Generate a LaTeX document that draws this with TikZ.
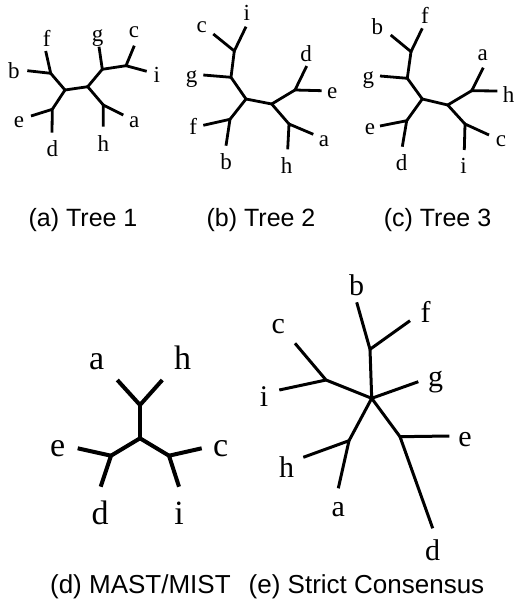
\documentclass[tikz,border=0pt]{standalone}
\usepackage{fontspec}
\setmainfont{Liberation Serif}
\setsansfont{Liberation Sans}
\usepackage{tikz}

\begin{document}
\begin{tikzpicture}[x=1pt, y=-1pt,
    branch/.style={line width=2.8pt},
    bigbranch/.style={line width=4pt},
    leaf/.style={inner sep=0pt, font=\fontsize{23}{25}\selectfont},
    bigleaf/.style={inner sep=0pt, font=\fontsize{34}{36}\selectfont},
    midleaf/.style={inner sep=0pt, font=\fontsize{30}{32}\selectfont},
    caption/.style={anchor=base, inner sep=0pt, font=\sffamily\fontsize{25}{27}\selectfont}]
    \useasboundingbox (0,0) rectangle (514,602);

    % (a) Tree 1
    \coordinate (A-L) at (65,90);
    \coordinate (A-R) at (87.7,86.7);
    \coordinate (A-ul) at (50.7,73.3);
    \coordinate (A-ll) at (52.3,109.3);
    \coordinate (A-ur) at (102.3,69.3);
    \coordinate (A-ci) at (126,65.7);
    \coordinate (A-lr) at (103.3,105);
    \coordinate (A-f) at (45.7,51);
    \coordinate (A-b) at (27.3,70.7);
    \coordinate (A-e) at (31,116);
    \coordinate (A-d) at (52,132.7);
    \coordinate (A-g) at (99,46.7);
    \coordinate (A-c) at (134.3,45.7);
    \coordinate (A-i) at (146.7,71.3);
    \coordinate (A-h) at (103.3,126.7);
    \coordinate (A-a) at (123.3,115);

    \draw[branch] (A-b) -- (A-ul) -- (A-f);
    \draw[branch] (A-ul) -- (A-L) -- (A-ll);
    \draw[branch] (A-e) -- (A-ll) -- (A-d);
    \draw[branch] (A-L) -- (A-R);
    \draw[branch] (A-ur) -- (A-R) -- (A-lr);
    \draw[branch] (A-g) -- (A-ur) -- (A-ci);
    \draw[branch] (A-c) -- (A-ci) -- (A-i);
    \draw[branch] (A-h) -- (A-lr) -- (A-a);

    \node[leaf] (A-fl) at (46.7,38.3) {f};
    \node[leaf] (A-bl) at (14,71) {b};
    \node[leaf] (A-el) at (19,121.7) {e};
    \node[leaf] (A-dl) at (52.3,148.3) {d};
    \node[leaf] (A-gl) at (97.7,37.7) {g};
    \node[leaf] (A-cl) at (134,32.3) {c};
    \node[leaf] (A-il) at (156.7,75) {i};
    \node[leaf] (A-al) at (134.3,122.7) {a};
    \node[leaf] (A-hl) at (103.3,144) {h};

    % (b) Tree 2
    \coordinate (B-L) at (246,99);
    \coordinate (B-R) at (271.7,104);
    \coordinate (B-ul) at (231,77.3);
    \coordinate (B-uul) at (234.3,51);
    \coordinate (B-ll) at (230,119.3);
    \coordinate (B-ur) at (295,90);
    \coordinate (B-lr) at (289,124);
    \coordinate (B-g) at (203.3,75);
    \coordinate (B-c) at (213.3,34);
    \coordinate (B-i) at (246,26.7);
    \coordinate (B-f) at (203.3,125.3);
    \coordinate (B-b) at (226,145.7);
    \coordinate (B-d) at (306.7,66);
    \coordinate (B-e) at (321.7,90.7);
    \coordinate (B-h) at (287.7,149.3);
    \coordinate (B-a) at (313.3,134.3);

    \draw[branch] (B-c) -- (B-uul) -- (B-i);
    \draw[branch] (B-uul) -- (B-ul) -- (B-L) -- (B-ll);
    \draw[branch] (B-g) -- (B-ul);
    \draw[branch] (B-f) -- (B-ll) -- (B-b);
    \draw[branch] (B-L) -- (B-R);
    \draw[branch] (B-ur) -- (B-R) -- (B-lr);
    \draw[branch] (B-d) -- (B-ur) -- (B-e);
    \draw[branch] (B-h) -- (B-lr) -- (B-a);

    \node[leaf] (B-il) at (246.7,13.3) {i};
    \node[leaf] (B-cl) at (201.7,27.3) {c};
    \node[leaf] (B-gl) at (191.7,79.3) {g};
    \node[leaf] (B-fl) at (193.3,126.7) {f};
    \node[leaf] (B-bl) at (226,161.7) {b};
    \node[leaf] (B-hl) at (286.7,165.7) {h};
    \node[leaf] (B-al) at (324,141.7) {a};
    \node[leaf] (B-el) at (332.3,93.3) {e};
    \node[leaf] (B-dl) at (306,53.3) {d};

    % (c) Tree 3
    \coordinate (C-L) at (422.3,99);
    \coordinate (C-R) at (447.7,105);
    \coordinate (C-ul) at (407.3,78.3);
    \coordinate (C-uul) at (411,51.7);
    \coordinate (C-ll) at (406.7,120.7);
    \coordinate (C-ur) at (471.7,90.7);
    \coordinate (C-lr) at (465,124);
    \coordinate (C-g) at (380,76);
    \coordinate (C-b) at (390.7,35);
    \coordinate (C-f) at (422.3,28.3);
    \coordinate (C-e) at (380,126);
    \coordinate (C-d) at (402.3,146.7);
    \coordinate (C-a) at (483.3,67.7);
    \coordinate (C-h) at (497.3,91);
    \coordinate (C-i) at (464.3,150);
    \coordinate (C-c) at (489,135);

    \draw[branch] (C-b) -- (C-uul) -- (C-f);
    \draw[branch] (C-uul) -- (C-ul) -- (C-L) -- (C-ll);
    \draw[branch] (C-g) -- (C-ul);
    \draw[branch] (C-e) -- (C-ll) -- (C-d);
    \draw[branch] (C-L) -- (C-R);
    \draw[branch] (C-ur) -- (C-R) -- (C-lr);
    \draw[branch] (C-a) -- (C-ur) -- (C-h);
    \draw[branch] (C-i) -- (C-lr) -- (C-c);

    \node[leaf] (C-bl) at (377.3,26.7) {b};
    \node[leaf] (C-fl) at (425,15) {f};
    \node[leaf] (C-gl) at (368.3,80) {g};
    \node[leaf] (C-al) at (482.7,55) {a};
    \node[leaf] (C-hl) at (508.5,94.3) {h};
    \node[leaf] (C-cl) at (501,140.7) {c};
    \node[leaf] (C-el) at (370,129.3) {e};
    \node[leaf] (C-dl) at (401.7,162.7) {d};
    \node[leaf] (C-il) at (463.5,166) {i};

    \node[caption] (capA) at (83,226) {(a) Tree 1};
    \node[caption] (capB) at (261,226) {(b) Tree 2};
    \node[caption] (capC) at (437.5,226) {(c) Tree 3};

    % (d) MAST/MIST
    \coordinate (D-C) at (140,438.3);
    \coordinate (D-T) at (140,405);
    \coordinate (D-Lf) at (111,455.7);
    \coordinate (D-Rt) at (169,455.7);
    \coordinate (D-a) at (117.3,380);
    \coordinate (D-h) at (162.3,380);
    \coordinate (D-e) at (77.7,448.3);
    \coordinate (D-d) at (100.7,486.7);
    \coordinate (D-c) at (201.7,448.3);
    \coordinate (D-i) at (179,486.7);

    \draw[bigbranch] (D-a) -- (D-T) -- (D-h);
    \draw[bigbranch] (D-T) -- (D-C);
    \draw[bigbranch] (D-Lf) -- (D-C) -- (D-Rt);
    \draw[bigbranch] (D-e) -- (D-Lf) -- (D-d);
    \draw[bigbranch] (D-c) -- (D-Rt) -- (D-i);

    \node[bigleaf] (D-al) at (96.7,361.5) {a};
    \node[bigleaf] (D-hl) at (182.7,358) {h};
    \node[bigleaf] (D-el) at (57.7,448.3) {e};
    \node[bigleaf] (D-cl) at (220.7,448.3) {c};
    \node[bigleaf] (D-dl) at (100,513.3) {d};
    \node[bigleaf] (D-il) at (179,513.3) {i};

    % (e) Strict Consensus
    \coordinate (E-C) at (371.7,398.3);
    \coordinate (E-bf) at (370,349.3);
    \coordinate (E-ci) at (326,380);
    \coordinate (E-ha) at (349,440.7);
    \coordinate (E-ed) at (400,436.7);
    \coordinate (E-b) at (356.7,302.3);
    \coordinate (E-f) at (410,320.7);
    \coordinate (E-g) at (418.3,381.7);
    \coordinate (E-c) at (295,343.3);
    \coordinate (E-i) at (279.3,390);
    \coordinate (E-h) at (303.3,457.3);
    \coordinate (E-a) at (338.3,488.3);
    \coordinate (E-e) at (449.3,436);
    \coordinate (E-d) at (432.7,528.3);

    \draw[branch, line width=3pt] (E-b) -- (E-bf) -- (E-f);
    \draw[branch, line width=3pt] (E-bf) -- (E-C) -- (E-g);
    \draw[branch, line width=3pt] (E-ci) -- (E-C) -- (E-ha);
    \draw[branch, line width=3pt] (E-C) -- (E-ed);
    \draw[branch, line width=3pt] (E-c) -- (E-ci) -- (E-i);
    \draw[branch, line width=3pt] (E-h) -- (E-ha) -- (E-a);
    \draw[branch, line width=3pt] (E-e) -- (E-ed) -- (E-d);

    \node[midleaf] (E-bl) at (356.7,285) {b};
    \node[midleaf] (E-fl) at (425.7,311.7) {f};
    \node[midleaf] (E-cl) at (278.3,326.7) {c};
    \node[midleaf] (E-il) at (264,396.7) {i};
    \node[midleaf] (E-gl) at (435.7,381.7) {g};
    \node[midleaf] (E-el) at (465,440) {e};
    \node[midleaf] (E-hl) at (286.7,466.7) {h};
    \node[midleaf] (E-al) at (338.3,510) {a};
    \node[midleaf] (E-dl) at (432.7,550) {d};

    \node[caption, font=\sffamily\fontsize{26}{28}\selectfont] (capD) at (140.4,593) {(d) MAST/MIST};
    \node[caption, font=\sffamily\fontsize{26}{28}\selectfont] (capE) at (366.5,593) {(e) Strict Consensus};
\end{tikzpicture}
\end{document}
